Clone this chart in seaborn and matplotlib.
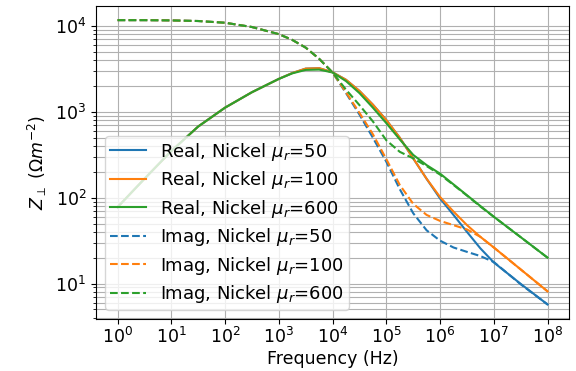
import numpy as np
import pandas as pd
import matplotlib
matplotlib.use("Agg")
import matplotlib.pyplot as plt
import matplotlib.ticker as mticker
import seaborn as sns

# Frequency grid (exponents of 10, Hz)
freq_exp = [0, 0.5, 1, 1.5, 2, 2.5, 3, 3.25, 3.5, 3.75, 4, 4.25, 4.5, 4.75,
            5, 5.25, 5.5, 5.75, 6, 6.25, 6.5, 6.75, 7, 7.5, 8]

real_mu50 = [77.6, 166, 350, 676, 1122, 1698, 2427, 2840, 3200, 3236, 2900,
             2371, 1758, 1216, 804, 501, 288, 166, 98, 63, 40, 25.7, 17.6, 9.9, 5.7]
real_mu100 = [77.6, 166, 350, 676, 1122, 1698, 2427, 2840, 3200, 3236, 2900,
              2371, 1758, 1216, 804, 501, 288, 166, 102, 69, 48, 35, 26.3, 14.6, 8.1]
real_mu600 = [77.6, 166, 350, 676, 1122, 1698, 2427, 2818, 3090, 3120, 2884,
              2291, 1660, 1122, 741, 479, 316, 240, 191, 143, 107, 80, 60, 34.7, 20]

imag_mu50 = [11750, 11750, 11670, 11480, 10960, 9772, 8072, 6918, 5623, 4169, 2884,
             1660, 933, 501, 263, 126, 66, 41.7, 31.6, 26.3, 23.4, 20.9, 17.8, 9.8, 5.7]
imag_mu100 = [11750, 11750, 11670, 11480, 10960, 9772, 8072, 6918, 5623, 4169, 2884,
              1698, 977, 550, 282, 141, 85, 63, 53.7, 47.9, 42.7, 35, 26.3, 14.6, 8.1]
imag_mu600 = [11750, 11750, 11670, 11480, 10960, 9772, 8072, 6918, 5623, 4169, 2884,
              1820, 1202, 776, 468, 343, 288, 234, 186, 141, 106, 79, 60, 34.7, 20]

mu_values = [50, 100, 600]
colors = ["#1f77b4", "#ff7f0e", "#2ca02c"]
x_tick_exps = [0, 1, 2, 3, 4, 5, 6, 7, 8]

freq = [10.0 ** e for e in freq_exp]

plt.rcParams["font.size"] = 12.5
fig = plt.figure(figsize=(5.76, 3.71), dpi=100)
ax = fig.add_axes([0.1667, 0.141, 0.8213, 0.843])

series = [("Real", real_mu50, 0, "-"), ("Real", real_mu100, 1, "-"), ("Real", real_mu600, 2, "-"),
          ("Imag", imag_mu50, 0, "--"), ("Imag", imag_mu100, 1, "--"), ("Imag", imag_mu600, 2, "--")]

for kind, vals, i, ls in series:
    df = pd.DataFrame({"f": freq, "z": vals})
    sns.lineplot(data=df, x="f", y="z", ax=ax, color=colors[i], linestyle=ls,
                 linewidth=1.5, label=f"{kind}, Nickel $\\mu_r$={mu_values[i]}")

ax.set_xscale("log")
ax.set_yscale("log")
ax.set_xticks([10.0 ** k for k in x_tick_exps])
ax.xaxis.set_minor_locator(mticker.NullLocator())
ax.yaxis.set_minor_formatter(mticker.NullFormatter())
ax.tick_params(axis="x", which="major", pad=2.5)
ax.grid(which="both", color="#b0b0b0", linewidth=0.8)
ax.set_axisbelow(True)
ax.set_xlabel("Frequency (Hz)", labelpad=2)
ax.set_ylabel(r"$Z_{\perp}$ $(\Omega m^{-2})$")
ax.legend(loc="lower left", fontsize=13, labelspacing=0.36, borderpad=0.25)

fig.savefig("out.png", dpi=100)
